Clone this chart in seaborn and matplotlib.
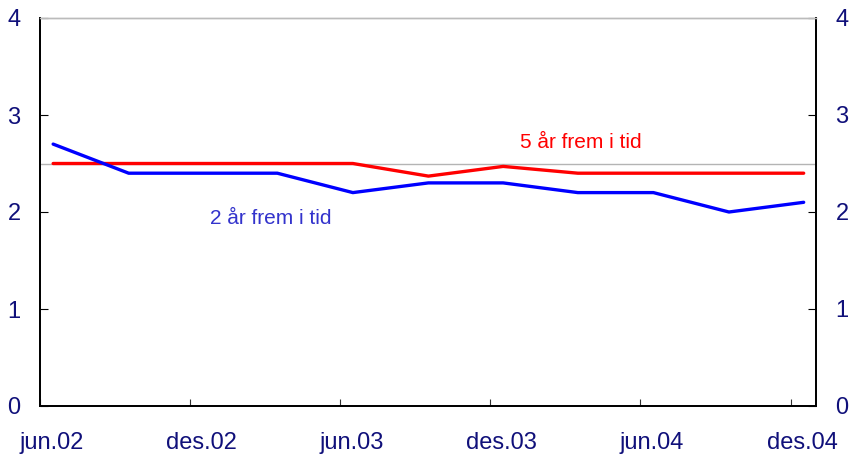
import matplotlib
matplotlib.use('Agg')
import matplotlib.pyplot as plt
import seaborn as sns
import pandas as pd

# ---- data ----
dates = ['2002-06-17', '2002-09-17', '2002-12-17', '2003-03-17', '2003-06-17',
         '2003-09-17', '2003-12-17', '2004-03-17', '2004-06-17', '2004-09-17',
         '2004-12-17']
two_year = [2.7, 2.4, 2.4, 2.4, 2.2, 2.3, 2.3, 2.2, 2.2, 2.0, 2.1]
five_year = [2.5, 2.5, 2.5, 2.5, 2.5, 2.37, 2.47, 2.4, 2.4, 2.4, 2.4]
tick_months = ['2002-06-01', '2002-12-01', '2003-06-01', '2003-12-01',
               '2004-06-01', '2004-12-01']
label_dates = ['2002-06-15', '2002-12-15', '2003-06-15', '2003-12-15',
               '2004-06-15', '2004-12-15']
tick_labels = ['jun.02', 'des.02', 'jun.03', 'des.03', 'jun.04', 'des.04']
y_ticks = [0, 1, 2, 3, 4]
target = 2.5
label_two = '2 år frem i tid'
label_five = '5 år frem i tid'

df = pd.DataFrame({'date': pd.to_datetime(dates), 'two': two_year, 'five': five_year})

sns.set_style('white')
plt.rcParams['font.family'] = ['Liberation Sans', 'DejaVu Sans']

navy = '#10107a'
fig = plt.figure(figsize=(8.51, 4.54), dpi=100)
ax = fig.add_axes([40 / 851, 48 / 454, 776 / 851, 388 / 454])

ax.axhline(target, color='#b4b4b4', lw=1.0, zorder=1)
sns.lineplot(data=df, x='date', y='five', ax=ax, color='#ff0000', lw=2.4, zorder=3)
sns.lineplot(data=df, x='date', y='two', ax=ax, color='#0000ff', lw=2.4, zorder=4)

ax.set_xlim(pd.Timestamp('2002-06-01'), pd.Timestamp('2005-01-01'))
ax.set_ylim(0, 4)
ax.set_xlabel('')
ax.set_ylabel('')

ax.set_xticks(pd.to_datetime(tick_months))
ax.set_xticklabels([])
ax.set_xticks(pd.to_datetime(label_dates), minor=True)
ax.set_xticklabels(tick_labels, minor=True)
ax.tick_params(axis='x', which='major', direction='in', length=5, width=0.8, color='#333333', bottom=True)
ax.tick_params(axis='x', which='minor', length=0, pad=19, labelsize=17, labelcolor=navy, bottom=True)

ax.set_yticks(y_ticks)
ax.tick_params(axis='y', direction='in', length=6, width=0.8, color='#000000', pad=14,
               labelsize=17, labelcolor=navy, left=True)

ax2 = ax.twinx()
ax2.set_ylim(0, 4)
ax2.set_yticks(y_ticks)
ax2.tick_params(axis='y', direction='in', length=6, width=0.8, color='#000000', pad=14,
                labelsize=17, labelcolor=navy, right=True)

for a in (ax, ax2):
    for side in ['left', 'right', 'bottom']:
        a.spines[side].set_color('#000000')
        a.spines[side].set_linewidth(1.3)
    a.spines['top'].set_color('#bbbbbb')
    a.spines['top'].set_linewidth(1.0)

ax.text(pd.Timestamp('2003-03-09'), 1.93, label_two, color='#3333cc', fontsize=15,
        ha='center', va='center')
ax.text(pd.Timestamp('2004-03-20'), 2.72, label_five, color='#ff0000', fontsize=15,
        ha='center', va='center')

fig.savefig('out.png', dpi=100)
